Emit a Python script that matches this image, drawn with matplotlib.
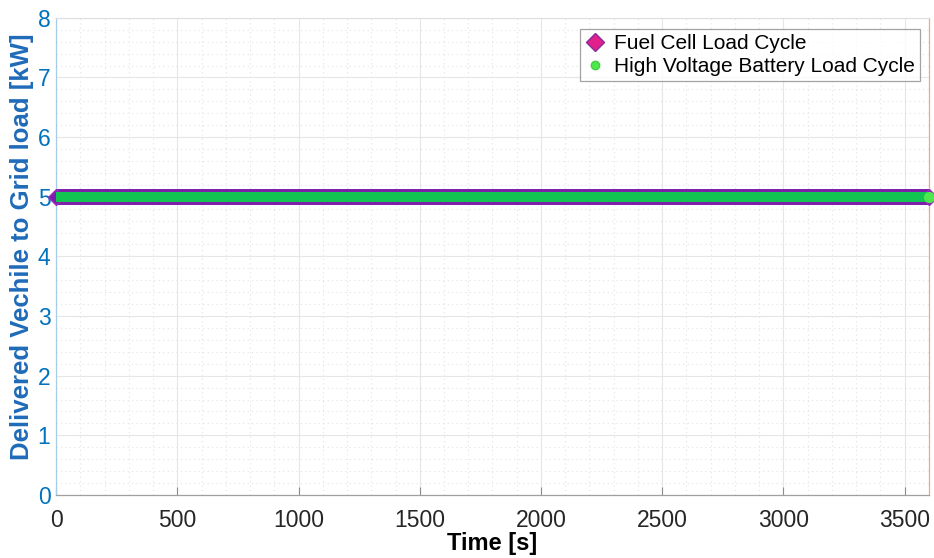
import matplotlib.pyplot as plt
from matplotlib.ticker import MultipleLocator
from matplotlib.lines import Line2D

# load cycle data (constant delivered power over one hour)
time_s = [0, 3600]
fuel_cell_kw = [5, 5]
battery_kw = [5, 5]

x_ticks = [0, 500, 1000, 1500, 2000, 2500, 3000, 3500]
y_ticks = [0, 1, 2, 3, 4, 5, 6, 7, 8]

blue = (0, 0.447, 0.741)

plt.rcParams['font.family'] = ['Liberation Sans', 'DejaVu Sans']

fig = plt.figure(figsize=(9.34, 5.58), dpi=100)
ax = fig.add_axes([0.06, 0.113, 0.9346, 0.855])

# fuel cell: purple band with diamond ends
ax.plot(time_s, fuel_cell_kw, color='#7d1fa8', linewidth=11.5, solid_capstyle='butt', zorder=3)
ax.plot(time_s, fuel_cell_kw, linestyle='none', marker='D', markersize=8,
        markerfacecolor='#7d1fa8', markeredgecolor='#9b30c0', zorder=3, clip_on=False)
# battery: green band with green circle at the end
ax.plot(time_s, battery_kw, color='#12c452', linewidth=7.2, solid_capstyle='butt', zorder=4)
ax.plot(time_s[-1:], battery_kw[-1:], linestyle='none', marker='o', markersize=7,
        markerfacecolor='#4ee84e', markeredgecolor='#4ee84e', zorder=5, clip_on=False)

ax.set_xlim(0, 3600)
ax.set_ylim(0, 8)
ax.set_xticks(x_ticks)
ax.set_yticks(y_ticks)
ax.xaxis.set_minor_locator(MultipleLocator(100))
ax.yaxis.set_minor_locator(MultipleLocator(0.2))

ax.grid(which='major', color='#e6e6e6', linewidth=0.8, linestyle='-')
ax.grid(which='minor', color='#e3e3e3', linewidth=0.8, linestyle=(0, (1, 3)))
ax.set_axisbelow(True)

ax.tick_params(axis='x', which='major', direction='in', length=6, colors='#8c8c8c',
               labelcolor='#262626', labelsize=16.5, top=False, pad=10)
ax.tick_params(axis='x', which='minor', length=0)
ax.tick_params(axis='y', which='major', direction='in', length=0, colors=blue,
               labelcolor=blue, labelsize=16.5, right=False, pad=4)
ax.tick_params(axis='y', which='minor', length=0)

ax.spines['left'].set_color('#a7cce8')
ax.spines['right'].set_color('#f0a882')
ax.spines['bottom'].set_color('#a0a0a0')
ax.spines['top'].set_color('#e0e0e0')
for s in ax.spines.values():
    s.set_linewidth(0.9)

ax.set_xlabel('Time [s]', fontsize=17, fontweight='bold', color='black')
ax.xaxis.set_label_coords(0.5, -0.078)
ax.set_ylabel('Delivered Vechile to Grid load [kW]', fontsize=18.5, fontweight='bold',
              color=(0.12, 0.42, 0.72))
ax.yaxis.set_label_coords(-0.025, 0.52)

handles = [
    Line2D([], [], linestyle='none', marker='D', markersize=9.5,
           markerfacecolor='#e0218a', markeredgecolor='#8b2a9a'),
    Line2D([], [], linestyle='none', marker='o', markersize=6,
           markerfacecolor='#4ee84e', markeredgecolor='#3fcf3f'),
]
leg = ax.legend(handles, ['Fuel Cell Load Cycle', 'High Voltage Battery Load Cycle'],
                loc='upper right', bbox_to_anchor=(0.9895, 0.977), fontsize=15,
                frameon=True, fancybox=False, handlelength=0.9, handletextpad=0.45,
                borderpad=0.25, labelspacing=0.2, borderaxespad=0)
leg.get_frame().set_edgecolor('#8c8c8c')
leg.get_frame().set_linewidth(0.9)

fig.savefig('out.png', dpi=100)
